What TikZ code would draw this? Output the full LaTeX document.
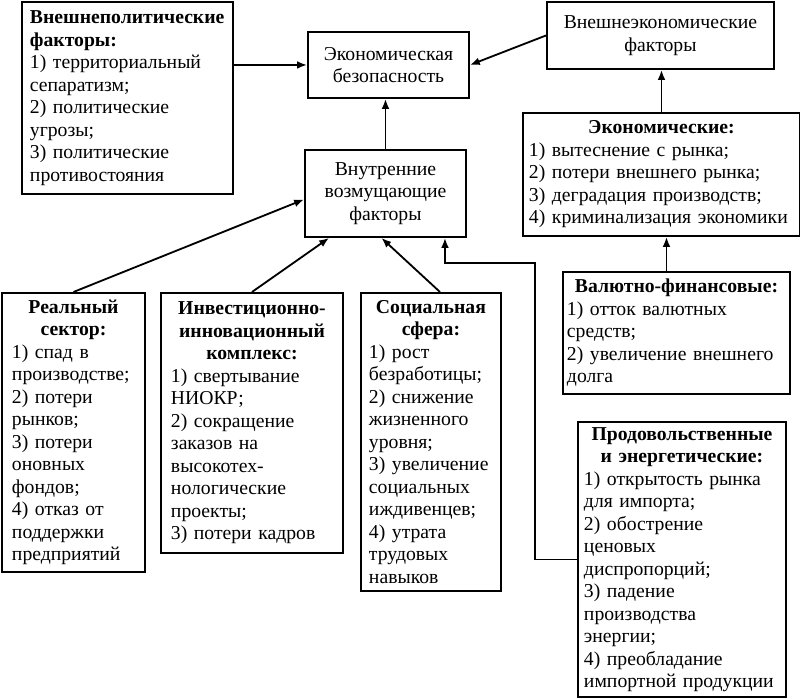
\documentclass[tikz,border=0pt]{standalone}
\usepackage{fontspec}
\setmainfont{Liberation Serif}
\usetikzlibrary{arrows.meta}
\tikzset{
  box/.style={draw, line width=1.4pt, anchor=north west, inner xsep=0.2cm, inner ysep=0pt, align=left, font=\fontsize{14}{16}\selectfont},
  arr/.style={line width=1.3pt, -{Latex[length=7pt,width=5.5pt]}},
}
\newcommand{\hd}[1]{{\centering\bfseries #1\par}\noindent}
\setlength{\parindent}{0pt}
\begin{document}
\begin{tikzpicture}[scale=1]
    \useasboundingbox (0,0) rectangle (20,-17.475);
    \node[box, minimum width=5.275cm, minimum height=4.8cm, text width=4.875cm] (extpol) at (0.525,-0.025) {\textbf{Внешнеполитические\\ факторы:}\\ 1) территориальный\\ сепаратизм;\\ 2) политические\\ угрозы;\\ 3) политические\\ противостояния};
    \node[box, align=center, minimum width=4.025cm, minimum height=1.65cm, text width=3.625cm] (sec) at (7.675,-0.775) {Экономическая\\ безопасность};
    \node[box, align=center, minimum width=5.675cm, minimum height=1.675cm, text width=5.275cm] (extecon) at (13.65,-0.025) {Внешнеэкономические\\ факторы};
    \node[box, align=center, minimum width=4.025cm, minimum height=2.175cm, text width=3.625cm] (internal) at (7.6,-3.725) {Внутренние\\ возмущающие\\ факторы};
    \node[box, inner xsep=0.15cm, minimum width=6.925cm, minimum height=3.075cm, text width=6.625cm] (econ) at (13.05,-2.8) {\hd{Экономические:}1) вытеснение с рынка;\\ 2) потери внешнего рынка;\\ 3) деградация производств;\\ 4) криминализация экономики};
    \node[box, inner xsep=0.1cm, minimum width=5.675cm, minimum height=3.05cm, text width=5.475cm] (currency) at (14.05,-6.775) {\hd{Валютно-финансовые:}1) отток валютных\\ средств;\\ 2) увеличение внешнего\\ долга};
    \node[box, inner xsep=0.15cm, minimum width=5.2cm, minimum height=6.875cm, text width=4.9cm] (food) at (14.425,-10.525) {\hd{Продовольственные\\ и энергетические:}1) открытость рынка\\ для импорта;\\ 2) обострение\\ ценовых\\ диспропорций;\\ 3) падение\\ производства\\ энергии;\\ 4) преобладание\\ импортной продукции};
    \node[box, inner xsep=0.25cm, minimum width=3.575cm, minimum height=6.975cm, text width=3.075cm] (real) at (0.025,-7.3) {\hd{Реальный\\ сектор:}1) спад в\\ производстве;\\ 2) потери\\ рынков;\\ 3) потери\\ оновных\\ фондов;\\ 4) отказ от\\ поддержки\\ предприятий};
    \node[box, inner xsep=0.25cm, minimum width=4.55cm, minimum height=6.5cm, text width=4.05cm] (invest) at (4.0,-7.3) {\hd{Инвестиционно-\\ инновационный\\ комплекс:}1) свертывание\\ НИОКР;\\ 2) сокращение\\ заказов на\\ высокотех-\\ нологические\\ проекты;\\ 3) потери кадров};
    \node[box, minimum width=3.5cm, minimum height=7.45cm, text width=3.1cm] (social) at (9.0,-7.3) {\hd{Социальная\\ сфера:}1) рост\\ безработицы;\\ 2) снижение\\ жизненного\\ уровня;\\ 3) увеличение\\ социальных\\ иждивенцев;\\ 4) утрата\\ трудовых\\ навыков};
    \draw[arr] (extpol.east |- sec.west) -- (sec.west);
    \draw[arr] (extecon.west) -- (sec.east);
    \draw[arr] (econ.north) -- (econ.north |- extecon.south);
    \draw[arr] ([xshift=-0.25cm]currency.north) -- ([xshift=-0.25cm]currency.north |- econ.south);
    \draw[arr] (internal.north) -- (internal.north |- sec.south);
    \draw[arr] (real.north) -- ([yshift=-0.15cm]internal.west);
    \draw[arr] (invest.north) -- ([xshift=0.625cm]internal.south west);
    \draw[arr] ([xshift=0.225cm]social.north) -- ([xshift=-0.1cm]internal.south);
    \coordinate (bend) at (13.375,-6.575);
    \draw[arr] (food.west) -| (bend) -| ([xshift=-0.55cm]internal.south east);
\end{tikzpicture}
\end{document}
